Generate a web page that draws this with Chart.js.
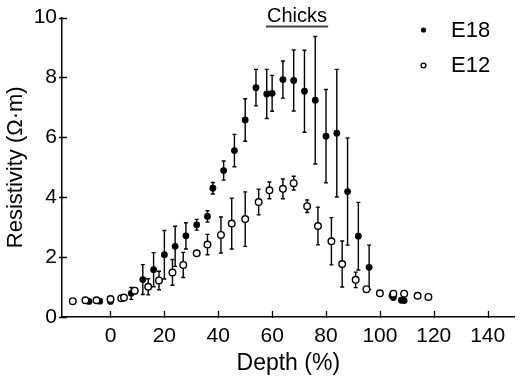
<!DOCTYPE html>
<html>
<head>
<meta charset="utf-8">
<script src="https://cdn.jsdelivr.net/npm/chart.js@4.4.1/dist/chart.umd.min.js"></script>
<style>
  html, body { margin: 0; padding: 0; background: #fff; }
  #wrap { width: 520px; height: 377px; }
</style>
</head>
<body>
<div id="wrap"><canvas id="chart"></canvas></div>
<script>
// E18 (filled) - depth %, resistivity, +/- error
const e18Depth = [-8, -4, 0, 4.5, 7.7, 12, 16, 20, 24, 28, 32, 36, 38, 42, 46, 50, 54, 58, 60, 64, 68, 72, 76, 80, 84, 88, 92, 96, 104.5, 105, 108, 109];
const e18Res = [0.52, 0.53, 0.52, 0.63, 0.79, 1.25, 1.58, 2.08, 2.36, 2.71, 3.08, 3.36, 4.3, 4.89, 5.56, 6.58, 7.66, 7.45, 7.47, 7.93, 7.9, 7.54, 7.24, 6.04, 6.14, 4.19, 2.7, 1.66, 0.71, 0.65, 0.56, 0.55];
const e18Err = [0, 0, 0, 0, 0.2, 0.5, 0.57, 0.81, 0.67, 0.44, 0.18, 0.19, 0.19, 0.32, 0.54, 0.71, 0.61, 0.82, 0.6, 0.62, 1.02, 1.37, 2.13, 1.56, 2.13, 1.79, 1.13, 0.74, 0, 0, 0, 0];

// E12 (open)
const e12Depth = [-14, -9.3, -5.2, 0, 4, 5, 9, 14, 18, 23, 27, 32, 36, 41, 45, 50, 55, 59, 64, 68, 73, 77, 82, 86, 91, 95, 100, 105, 109, 114, 118];
const e12Res = [0.53, 0.56, 0.56, 0.6, 0.63, 0.65, 0.88, 1.01, 1.22, 1.49, 1.74, 2.13, 2.42, 2.74, 3.12, 3.27, 3.84, 4.23, 4.28, 4.47, 3.7, 3.04, 2.53, 1.77, 1.24, 0.93, 0.79, 0.78, 0.78, 0.71, 0.67];
const e12Err = [0, 0, 0, 0, 0, 0, 0.1, 0.27, 0.31, 0.43, 0.42, 0, 0.34, 0.6, 0.85, 0.91, 0.43, 0.28, 0.33, 0.23, 0.21, 0.63, 0.79, 0.77, 0.26, 0, 0, 0, 0, 0, 0];

const xTicks = [0, 20, 40, 60, 80, 100, 120, 140];
const yTicks = [0, 2, 4, 6, 8, 10];
const legendLabels = ["E18", "E12"];
const bandLabel = "Chicks";
const bandRange = [57.7, 80.8];

const FONT = "'Liberation Sans', Arial, sans-serif";

const toPoints = (xs, ys) => xs.map((d, i) => ({ x: d, y: ys[i] }));

// error bars under the markers
const errorBars = {
  id: "errorBars",
  beforeDatasetsDraw(chart) {
    const ctx = chart.ctx;
    const sx = chart.scales.x, sy = chart.scales.y;
    ctx.save();
    ctx.strokeStyle = "#000";
    ctx.lineWidth = 1.4;
    [[e18Depth, e18Res, e18Err], [e12Depth, e12Res, e12Err]].forEach(([xs, ys, es]) => {
      xs.forEach((d, i) => {
        if (!es[i]) return;
        const px = sx.getPixelForValue(d);
        const top = sy.getPixelForValue(ys[i] + es[i]);
        const bot = sy.getPixelForValue(ys[i] - es[i]);
        ctx.beginPath();
        ctx.moveTo(px, top); ctx.lineTo(px, bot);
        ctx.moveTo(px - 2, top); ctx.lineTo(px + 2, top);
        ctx.moveTo(px - 2, bot); ctx.lineTo(px + 2, bot);
        ctx.stroke();
      });
    });
    ctx.restore();
  }
};

// inward ticks, legend and the "Chicks" label
const extras = {
  id: "extras",
  afterDraw(chart) {
    const ctx = chart.ctx;
    const sx = chart.scales.x, sy = chart.scales.y;
    const area = chart.chartArea;
    ctx.save();
    ctx.strokeStyle = "#000";
    ctx.lineWidth = 1.3;
    ctx.beginPath();
    xTicks.forEach(v => {
      const px = Math.round(sx.getPixelForValue(v)) + 0.5;
      ctx.moveTo(px, area.bottom + 1);
      ctx.lineTo(px, area.bottom - 6);
    });
    yTicks.forEach(v => {
      const py = Math.round(sy.getPixelForValue(v)) + 0.5;
      ctx.moveTo(area.left - 3, py);
      ctx.lineTo(area.left + 5, py);
    });
    ctx.stroke();

    // legend
    ctx.font = "22px " + FONT;
    ctx.fillStyle = "#000";
    ctx.textBaseline = "middle";
    ctx.textAlign = "left";
    ctx.beginPath();
    ctx.arc(423.5, 30, 2.6, 0, Math.PI * 2);
    ctx.fill();
    ctx.fillText(legendLabels[0], 451, 31);
    ctx.beginPath();
    ctx.arc(423.5, 65.5, 2.4, 0, Math.PI * 2);
    ctx.lineWidth = 1.3;
    ctx.stroke();
    ctx.fillText(legendLabels[1], 451, 66);

    // Chicks label with underline
    const x0 = sx.getPixelForValue(bandRange[0]);
    const x1 = sx.getPixelForValue(bandRange[1]);
    ctx.font = "20px " + FONT;
    ctx.textAlign = "center";
    ctx.textBaseline = "alphabetic";
    ctx.fillText(bandLabel, (x0 + x1) / 2, 22);
    ctx.strokeStyle = "#444";
    ctx.lineWidth = 2;
    ctx.beginPath();
    ctx.moveTo(x0, 26.5);
    ctx.lineTo(x1, 26.5);
    ctx.stroke();
    ctx.restore();
  }
};

new Chart(document.getElementById("chart"), {
  type: "scatter",
  data: {
    datasets: [
      {
        label: legendLabels[1],
        data: toPoints(e12Depth, e12Res),
        pointRadius: 3.3,
        pointBorderWidth: 1.4,
        pointBackgroundColor: "#fff",
        pointBorderColor: "#000",
        order: 1
      },
      {
        label: legendLabels[0],
        data: toPoints(e18Depth, e18Res),
        pointRadius: 3.4,
        pointBorderWidth: 0,
        pointBackgroundColor: "#000",
        pointBorderColor: "#000",
        order: 2
      }
    ]
  },
  options: {
    responsive: true,
    maintainAspectRatio: false,
    animation: false,
    layout: { padding: { top: 13, right: 4, left: 0, bottom: 0 } },
    plugins: {
      legend: { display: false },
      tooltip: { enabled: false }
    },
    scales: {
      x: {
        type: "linear",
        min: -18,
        max: 150,
        afterBuildTicks: s => { s.ticks = xTicks.map(v => ({ value: v })); },
        afterFit: s => { s.height = 60; },
        grid: { display: false, drawTicks: false },
        border: { display: true, color: "#000", width: 1.5 },
        ticks: { color: "#000", font: { family: FONT, size: 21 }, padding: 7, maxRotation: 0 },
        title: { display: true, text: "Depth (%)", color: "#000", font: { family: FONT, size: 23 }, padding: 0 }
      },
      y: {
        type: "linear",
        min: 0,
        max: 10,
        afterBuildTicks: s => { s.ticks = yTicks.map(v => ({ value: v })); },
        afterFit: s => { s.width = 62; },
        grid: { display: false, drawTicks: false },
        border: { display: true, color: "#000", width: 1.5 },
        ticks: { color: "#000", font: { family: FONT, size: 21 }, padding: 5 },
        title: { display: true, text: "Resistivity (Ω·m)", color: "#000", font: { family: FONT, size: 22 }, padding: { top: 3, bottom: 0 } }
      }
    }
  },
  plugins: [errorBars, extras]
});
</script>
</body>
</html>
